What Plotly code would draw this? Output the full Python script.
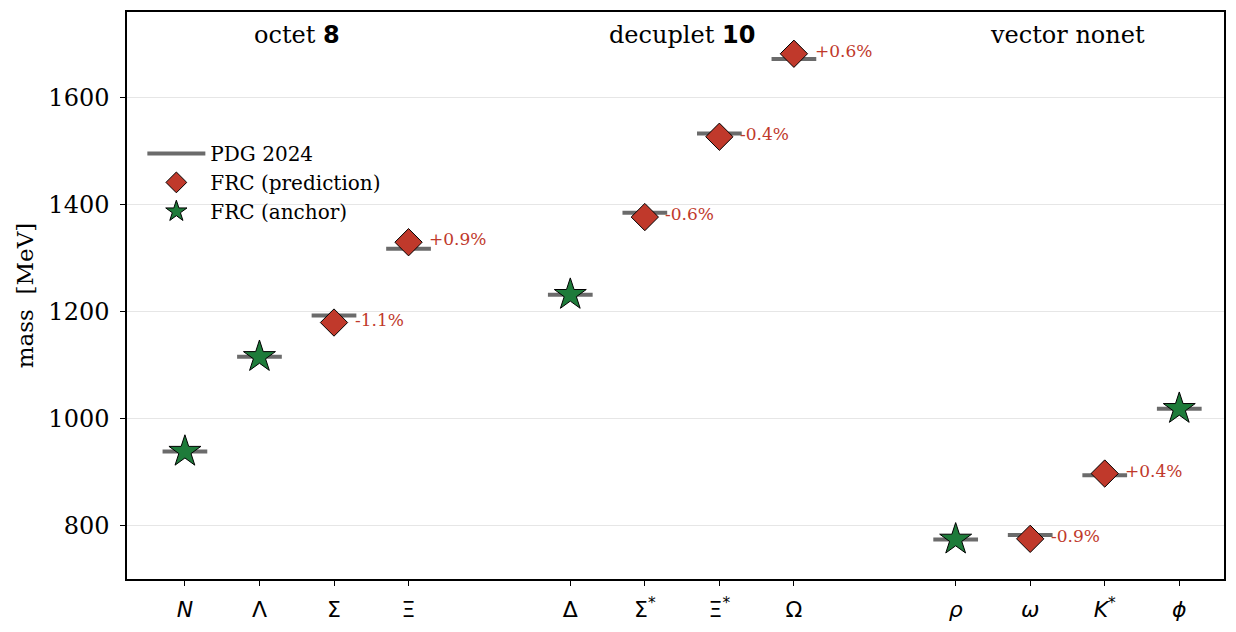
import plotly.graph_objects as go

# ---- data ----
groups = ["octet <b style='font-family:DejaVu Sans'>8</b>",
          "decuplet <b style='font-family:DejaVu Sans'>10</b>",
          "vector nonet"]
group_members = [["N", "Λ", "Σ", "Ξ"],
                 ["Δ", "Σ*", "Ξ*", "Ω"],
                 ["ρ", "ω", "K*", "φ"]]
tick_labels = ["<i>N</i>", "Λ", "Σ", "Ξ",
               "Δ", "Σ<sup>*</sup>", "Ξ<sup>*</sup>", "Ω",
               "<i>ρ</i>", "<i>ω</i>", "<i>K</i><sup>*</sup>", "<i>ϕ</i>"]
pdg_mass = [939, 1116, 1193, 1318,
            1232, 1385, 1533, 1672,
            775, 783, 895, 1019]
frc_mass = [939, 1116, 1180, 1330,
            1232, 1377, 1527, 1682,
            775, 776, 898, 1019]
is_anchor = [True, True, False, False,
             True, False, False, False,
             True, False, False, True]
pct_labels = ["", "", "-1.1%", "+0.9%",
              "", "-0.6%", "-0.4%", "+0.6%",
              "", "-0.9%", "+0.4%", ""]

# ---- positions ----
group_gap = 2.17
xs = []
for gi, members in enumerate(group_members):
    for mi, _ in enumerate(members):
        xs.append(gi * (3 + group_gap) + mi)

fig = go.Figure()

# PDG bars
half = 0.3
bx, by = [], []
for x, m in zip(xs, pdg_mass):
    bx += [x - half, x + half, None]
    by += [m, m, None]
fig.add_trace(go.Scatter(x=bx, y=by, mode="lines",
                         line=dict(color="#6b6b6b", width=4),
                         name="PDG 2024"))

# predictions
px = [x for x, a in zip(xs, is_anchor) if not a]
py = [m for m, a in zip(frc_mass, is_anchor) if not a]
fig.add_trace(go.Scatter(x=px, y=py, mode="markers",
                         marker=dict(symbol="diamond", size=21, color="#c0392b",
                                     line=dict(color="black", width=1)),
                         name="FRC (prediction)"))
# anchors
ax_ = [x for x, a in zip(xs, is_anchor) if a]
ay_ = [m for m, a in zip(frc_mass, is_anchor) if a]
fig.add_trace(go.Scatter(x=ax_, y=ay_, mode="markers",
                         marker=dict(symbol="star", size=24, color="#1e7b3a",
                                     line=dict(color="black", width=1)),
                         name="FRC (anchor)"))

# percent labels
for x, m, t in zip(xs, frc_mass, pct_labels):
    if t:
        fig.add_annotation(x=x + 0.25, y=m, text=t, showarrow=False,
                           xanchor="left", yanchor="middle", yshift=3,
                           font=dict(family="DejaVu Serif", size=17, color="#c0392b"))

# group labels
for gi, g in enumerate(groups):
    fig.add_annotation(x=gi * (3 + group_gap) + 1.5, y=0.96, yref="paper",
                       text=g, showarrow=False, xanchor="center", yanchor="middle",
                       font=dict(family="DejaVu Serif", size=24, color="black"))

fig.update_layout(
    width=1236, height=632,
    margin=dict(l=127, r=10, t=10, b=53),
    plot_bgcolor="white", paper_bgcolor="white",
    font=dict(family="DejaVu Serif", size=20, color="black"),
    showlegend=True,
    legend=dict(x=0.014, y=0.785, xanchor="left", yanchor="top",
                bgcolor="rgba(255,255,255,0)", font=dict(size=20, family="DejaVu Serif"),
                itemwidth=58, tracegroupgap=8),
)
fig.update_xaxes(range=[-0.777, 13.94], tickmode="array", tickvals=xs,
                 ticktext=tick_labels, showgrid=False, zeroline=False,
                 showline=True, linecolor="black", linewidth=1.5, mirror=True,
                 ticks="outside", ticklen=5, tickcolor="black", ticklabelstandoff=5,
                 tickfont=dict(family="DejaVu Sans", size=22))
fig.update_yaxes(range=[701, 1760], tickvals=[800, 1000, 1200, 1400, 1600],
                 showgrid=True, gridcolor="#e6e6e6", gridwidth=1, zeroline=False,
                 showline=True, linecolor="black", linewidth=1.5, mirror=True,
                 ticks="outside", ticklen=5, tickcolor="black", ticklabelstandoff=6,
                 title=dict(text="mass  [MeV]", standoff=8,
                            font=dict(family="DejaVu Serif", size=23)),
                 tickfont=dict(family="DejaVu Serif", size=24))

fig.write_html("out.html")
